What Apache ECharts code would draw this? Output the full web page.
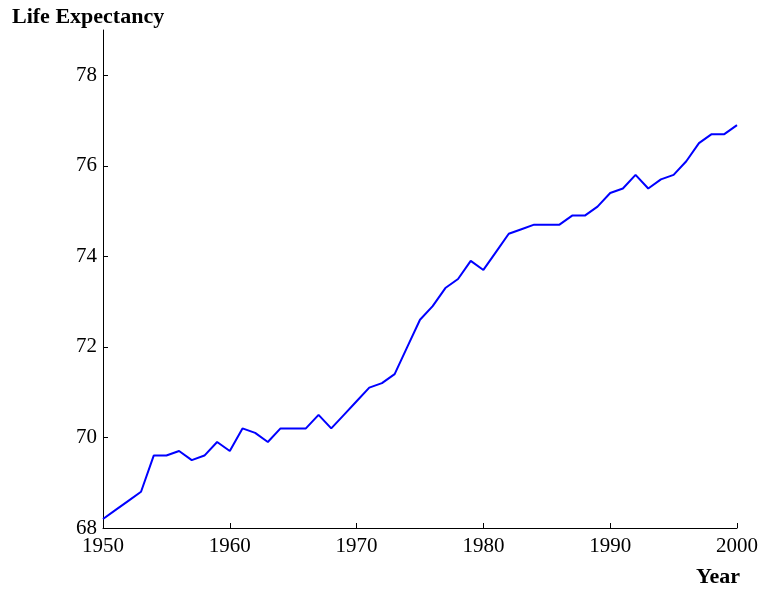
<!DOCTYPE html>
<html>
<head>
<meta charset="utf-8">
<script src="https://cdn.jsdelivr.net/npm/echarts@6/dist/echarts.min.js"></script>
<style>
  html, body { margin: 0; padding: 0; background: #fff; }
  #chart { width: 761px; height: 589px; }
</style>
</head>
<body>
<div id="chart"></div>
<script>
const years = [];
for (let y = 1950; y <= 2000; y++) years.push(y);

const lifeExpectancy = [
  68.2, 68.4, 68.6, 68.8, 69.6, 69.6, 69.7, 69.5, 69.6, 69.9,
  69.7, 70.2, 70.1, 69.9, 70.2, 70.2, 70.2, 70.5, 70.2, 70.5,
  70.8, 71.1, 71.2, 71.4, 72.0, 72.6, 72.9, 73.3, 73.5, 73.9,
  73.7, 74.1, 74.5, 74.6, 74.7, 74.7, 74.7, 74.9, 74.9, 75.1,
  75.4, 75.5, 75.8, 75.5, 75.7, 75.8, 76.1, 76.5, 76.7, 76.7,
  76.9
];

const yTicks = [68, 70, 72, 74, 76, 78];
const xTicks = [1950, 1960, 1970, 1980, 1990, 2000];

const font = '"Liberation Serif", "Times New Roman", serif';

const chart = echarts.init(document.getElementById('chart'));

chart.setOption({
  animation: false,
  backgroundColor: '#fff',
  grid: {
    left: 103,
    right: 24,
    top: 30,
    bottom: 61
  },
  xAxis: {
    type: 'value',
    min: 1950,
    max: 2000,
    interval: 10,
    axisLine: { lineStyle: { color: '#000', width: 1 } },
    axisTick: {
      inside: true,
      length: 5,
      customValues: xTicks,
      lineStyle: { color: '#000' }
    },
    axisLabel: {
      customValues: xTicks,
      formatter: (v) => String(v),
      color: '#000',
      fontFamily: font,
      fontSize: 21,
      margin: 8
    },
    splitLine: { show: false }
  },
  yAxis: {
    type: 'value',
    min: 68,
    max: 79,
    interval: 2,
    axisLine: { show: true, lineStyle: { color: '#000', width: 1 } },
    axisTick: {
      show: true,
      inside: true,
      length: 5,
      customValues: yTicks,
      lineStyle: { color: '#000' }
    },
    axisLabel: {
      customValues: yTicks,
      color: '#000',
      fontFamily: font,
      fontSize: 21,
      margin: 6
    },
    splitLine: { show: false }
  },
  graphic: [
    {
      type: 'text',
      left: 12,
      top: 6,
      style: {
        text: 'Life Expectancy',
        fill: '#000',
        font: 'bold 22px ' + font
      }
    },
    {
      type: 'text',
      right: 21,
      top: 566,
      style: {
        text: 'Year',
        fill: '#000',
        font: 'bold 22px ' + font
      }
    }
  ],
  series: [
    {
      type: 'line',
      data: years.map((y, i) => [y, lifeExpectancy[i]]),
      showSymbol: false,
      lineStyle: { color: '#0000ff', width: 2 }
    }
  ]
});
</script>
</body>
</html>
